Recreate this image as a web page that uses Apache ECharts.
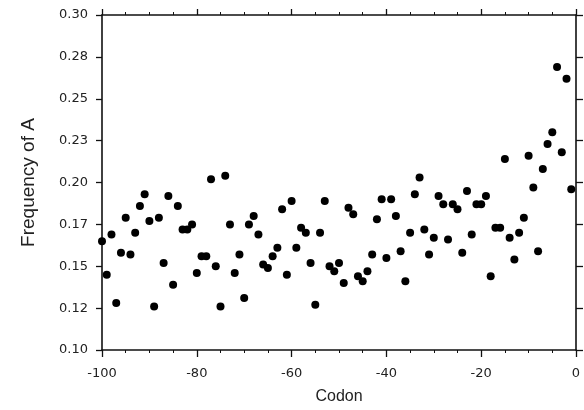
<!DOCTYPE html>
<html>
<head>
<meta charset="utf-8">
<script src="https://cdn.jsdelivr.net/npm/echarts@6/dist/echarts.min.js"></script>
<style>html,body{margin:0;padding:0;background:#fff}#c{width:584px;height:410px}</style>
</head>
<body>
<div id="c"></div>
<script>
var codons = [-100,-99,-98,-97,-96,-95,-94,-93,-92,-91,-90,-89,-88,-87,-86,-85,-84,-83,-82,-81,
  -80,-79,-78,-77,-76,-75,-74,-73,-72,-71,-70,-69,-68,-67,-66,-65,-64,-63,-62,-61,
  -60,-59,-58,-57,-56,-55,-54,-53,-52,-51,-50,-49,-48,-47,-46,-45,-44,-43,-42,-41,
  -40,-39,-38,-37,-36,-35,-34,-33,-32,-31,-30,-29,-28,-27,-26,-25,-24,-23,-22,-21,
  -20,-19,-18,-17,-16,-15,-14,-13,-12,-11,-10,-9,-8,-7,-6,-5,-4,-3,-2,-1];
var freqA = [0.165,0.145,0.169,0.128,0.158,0.179,0.157,0.170,0.186,0.193,0.177,0.126,0.179,0.152,0.192,0.139,0.186,0.172,0.172,0.175,
  0.146,0.156,0.156,0.202,0.150,0.126,0.204,0.175,0.146,0.157,0.131,0.175,0.180,0.169,0.151,0.149,0.156,0.161,0.184,0.145,
  0.189,0.161,0.173,0.170,0.152,0.127,0.170,0.189,0.150,0.147,0.152,0.140,0.185,0.181,0.144,0.141,0.147,0.157,0.178,0.190,
  0.155,0.190,0.180,0.159,0.141,0.170,0.193,0.203,0.172,0.157,0.167,0.192,0.187,0.166,0.187,0.184,0.158,0.195,0.169,0.187,
  0.187,0.192,0.144,0.173,0.173,0.214,0.167,0.154,0.170,0.179,0.216,0.197,0.159,0.208,0.223,0.230,0.269,0.218,0.262,0.196];
var yTickLabels = ['0.10','0.12','0.15','0.17','0.20','0.23','0.25','0.28','0.30'];
var xTickLabels = ['-100','-80','-60','-40','-20','0'];
var xName = 'Codon';
var yName = 'Frequency of A';

var pts = codons.map(function (c, i) { return [c, freqA[i]]; });
var axisCol = '#111';
var tickFont = {fontFamily: 'DejaVu Sans', fontSize: 13, color: '#222'};

var chart = echarts.init(document.getElementById('c'), null, {renderer: 'canvas'});
chart.setOption({
  animation: false,
  backgroundColor: '#fff',
  grid: {left: 102, right: 8, top: 15, bottom: 58, containLabel: false},
  xAxis: [{
    type: 'value', position: 'bottom', min: -100, max: 0, interval: 20,
    name: xName, nameLocation: 'middle', nameGap: 39,
    nameTextStyle: {fontFamily: 'Liberation Sans', fontSize: 16, color: '#222'},
    axisLine: {onZero: false, lineStyle: {color: axisCol, width: 1.6}},
    axisTick: {show: true, inside: false, length: 7, lineStyle: {color: axisCol, width: 1.3}},
    minorTick: {show: true, splitNumber: 4, length: 3, lineStyle: {color: axisCol, width: 1}},
    splitLine: {show: false},
    axisLabel: Object.assign({margin: 17, formatter: function (v) {
      var idx = Math.round((v + 100) / 20); return xTickLabels[idx] || ''; }}, tickFont)
  }, {
    type: 'value', position: 'top', min: -100, max: 0, interval: 20,
    axisLine: {onZero: false, lineStyle: {color: axisCol, width: 1.6}},
    axisTick: {show: true, inside: false, length: 6, lineStyle: {color: axisCol, width: 1.3}},
    minorTick: {show: true, splitNumber: 4, length: 3, lineStyle: {color: axisCol, width: 1}},
    splitLine: {show: false},
    axisLabel: {show: false}
  }],
  yAxis: [{
    type: 'value', position: 'left', min: 0.1, max: 0.3, interval: 0.025,
    name: yName, nameLocation: 'middle', nameGap: 64, nameRotate: 90,
    nameTextStyle: {fontFamily: 'Liberation Sans', fontSize: 19, color: '#222'},
    axisLine: {onZero: false, lineStyle: {color: axisCol, width: 1.6}},
    axisTick: {show: true, inside: false, length: 6, lineStyle: {color: axisCol, width: 1.3}},
    splitLine: {show: false},
    axisLabel: Object.assign({margin: 14, formatter: function (v) {
      var idx = Math.round((v - 0.1) / 0.025); return yTickLabels[idx] || ''; }}, tickFont)
  }, {
    type: 'value', position: 'right', min: 0.1, max: 0.3, interval: 0.025,
    axisLine: {onZero: false, lineStyle: {color: axisCol, width: 1.6}},
    axisTick: {show: true, inside: false, length: 7, lineStyle: {color: axisCol, width: 1.3}},
    splitLine: {show: false},
    axisLabel: {show: false}
  }],
  series: [{
    type: 'scatter', xAxisIndex: 0, yAxisIndex: 0,
    data: pts, symbol: 'circle', symbolSize: 8,
    itemStyle: {color: '#000', opacity: 1},
    clip: false
  }]
});
</script>
</body>
</html>
